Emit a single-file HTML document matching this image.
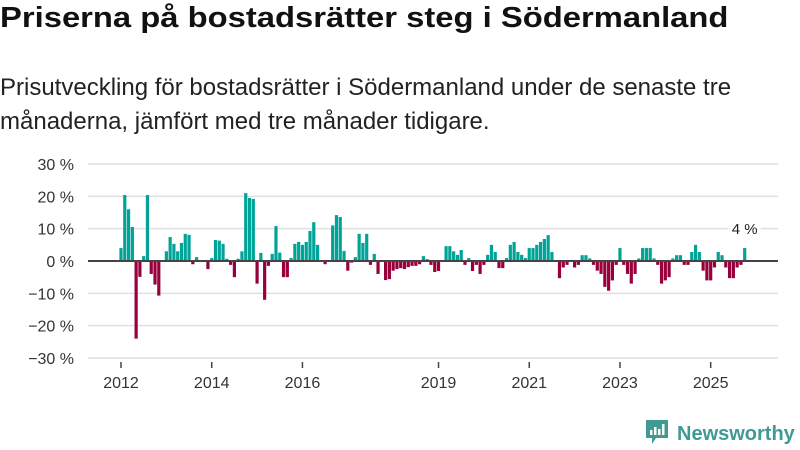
<!DOCTYPE html>
<html><head><meta charset="utf-8"><style>
body{margin:0;width:800px;height:450px;background:#fff;font-family:"Liberation Sans",sans-serif;overflow:hidden;position:relative;color:#111}
h1{position:absolute;left:0;top:2px;margin:0;font-size:29px;font-weight:bold;transform-origin:0 0;transform:scaleX(1.13);white-space:nowrap}
p{position:absolute;left:0;top:71px;margin:0;font-size:24px;line-height:34px;color:#222;width:770px}
svg{position:absolute;left:0;top:0}
</style></head><body>
<h1>Priserna på bostadsrätter steg i Södermanland</h1>
<p>Prisutveckling för bostadsrätter i Södermanland under de senaste tre månaderna, jämfört med tre månader tidigare.</p>
<svg id="chart" width="800" height="450"></svg>
<script>
const values=[4,20.4,16,10.5,-24,-4.9,1.5,20.4,-4,-7.3,-10.7,0,3,7.4,5.3,3,5.6,8.4,8.1,-1,1.2,0,0,-2.5,0.9,6.5,6.3,5.3,0.7,-1.2,-5,0.7,3,21,19.5,19.2,-7,2.5,-12,-1.5,2.2,10.8,2.6,-5,-5,0.9,5.3,5.9,5,5.9,9.3,12,5,0,-1,0,11,14.2,13.6,3.1,-3,-0.5,1.2,8.4,5.6,8.4,-1.2,2.2,-4,0,-5.9,-5.6,-3,-2.5,-2.2,-2.5,-1.9,-1.5,-1.5,-1,1.5,0.6,-1.2,-3.4,-3.1,0,4.6,4.6,3,1.9,3.4,-1.2,0.9,-3.1,-1.2,-4,-1.2,1.9,5,2.8,-2.2,-2.2,0.9,5,5.9,2.8,1.9,0.9,4,4,5,5.9,6.8,8,2.8,0,-5.3,-2,-1.2,0,-2,-1.2,1.8,1.8,0.8,-1.2,-3,-4,-8,-9.2,-6,-1.2,4,-1.2,-4,-7,-4,0.8,4,4,4,0.8,-1.2,-7,-6,-5,0.8,1.8,1.8,-1.2,-1.2,2.8,5,2.8,-3,-6,-6,-2,2.8,1.8,-2,-5.3,-5.3,-2,-1.2,4];
const yTicks=[30,20,10,0,-10,-20,-30];
const yTickLabels=["30 %","20 %","10 %","0 %","−10 %","−20 %","−30 %"];
const xTickYears=[2012,2014,2016,2019,2021,2023,2025];
const startYear=2012;
const lastLabel="4 %";
const NS="http://www.w3.org/2000/svg";
const svg=document.getElementById('chart');
const x=m=>121+m*3.78;
const y=v=>261-v*3.233;
function mk(t,a){const e=document.createElementNS(NS,t);for(const k in a)e.setAttribute(k,a[k]);svg.appendChild(e);return e;}
yTicks.forEach((t,i)=>{
  const g=mk('line',{x1:88,x2:778,y1:y(t),y2:y(t),stroke:'#e0e0e0','stroke-width':1.5});
  
  
  const l=mk('text',{x:74,y:y(t)+6,'text-anchor':'end','font-size':16,fill:'#333','font-family':'Liberation Sans, sans-serif'});
  l.textContent=yTickLabels[i];
  
  
});
values.forEach((v,m)=>{
  if(v===0)return;
  const r=mk('rect',{x:x(m)-1.6,width:3.2,y:Math.min(y(v),y(0)),height:Math.abs(y(v)-y(0)),fill:v>0?'#00a398':'#98003c'});
  
  
});
const z=mk('line',{x1:88,x2:778,y1:y(0),y2:y(0),stroke:'#444','stroke-width':2});


xTickYears.forEach(yr=>{
  const m=(yr-startYear)*12;
  const t=mk('line',{x1:x(m),x2:x(m),y1:362,y2:368,stroke:'#444','stroke-width':1.5});
  
  
  const l=mk('text',{x:x(m),y:388,'text-anchor':'middle','font-size':16,fill:'#333','font-family':'Liberation Sans, sans-serif'});
  l.textContent=yr;
  
  
});
const lm=values.length-1;
const bg=mk('rect',{x:x(lm)-16,y:y(values[lm])-30,width:32,height:20,fill:'#fff'});


const ll=mk('text',{x:x(lm),y:y(values[lm])-14,'text-anchor':'middle','font-size':15,fill:'#222','font-family':'Liberation Sans, sans-serif'});
ll.textContent=lastLabel;


</script>
<svg width="800" height="450" style="pointer-events:none">
<path d="M646 420 h22 v18 h-12 l-4 6 v-6 h-6 z" fill="#3f9a93"/>
<rect x="650" y="430" width="2.5" height="5" fill="#fff"/><rect x="654" y="427" width="2.5" height="8" fill="#fff"/><rect x="658" y="429" width="2.5" height="6" fill="#fff"/><rect x="662" y="424" width="2.5" height="11" fill="#fff"/>
<text x="677" y="440" font-size="20" font-weight="bold" fill="#3f9a93" font-family="Liberation Sans, sans-serif">Newsworthy</text>
</svg>
</body></html>
